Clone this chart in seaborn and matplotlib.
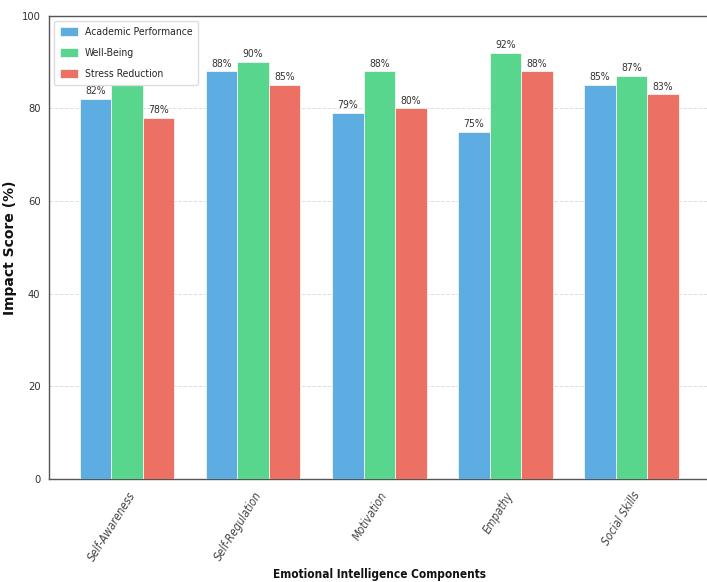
import matplotlib
matplotlib.use("Agg")
import matplotlib.pyplot as plt
import seaborn as sns
import pandas as pd

components = ["Self-Awareness", "Self-Regulation", "Motivation", "Empathy", "Social Skills"]
academic = [82, 88, 79, 75, 85]
well_being = [85, 90, 88, 92, 87]
stress = [78, 85, 80, 88, 83]
series_names = ["Academic Performance", "Well-Being", "Stress Reduction"]
palette = ["#5DADE2", "#58D68D", "#EC7063"]
y_ticks = [0, 20, 40, 60, 80, 100]

df = pd.DataFrame({
    "Component": components * 3,
    "Series": [series_names[0]] * 5 + [series_names[1]] * 5 + [series_names[2]] * 5,
    "Score": academic + well_being + stress,
})

sns.set_style("white")
plt.rcParams["font.family"] = ["DejaVu Sans"]
plt.rcParams["font.stretch"] = "condensed"

fig = plt.figure(figsize=(7.07, 5.82), dpi=100)
ax = fig.add_axes([0.069, 0.177, 0.935, 0.796])

sns.barplot(data=df, x="Component", y="Score", hue="Series", palette=palette,
            saturation=1, width=0.75, edgecolor="#f4f4f4", linewidth=0.6, ax=ax, zorder=3)

for cont in ax.containers:
    ax.bar_label(cont, fmt="%d%%", padding=2, fontsize=7.5, color="#333333")

ax.set_ylim(0, 100)
ax.set_xlim(-0.62, 4.62)
ax.set_yticks(y_ticks)
ax.yaxis.grid(True, linestyle="--", color="#dddddd", linewidth=0.7, zorder=0)
ax.set_axisbelow(True)

for side in ["left", "bottom", "top", "right"]:
    ax.spines[side].set_color("#555555")
    ax.spines[side].set_linewidth(1.0)

ax.tick_params(axis="both", colors="#444444", labelsize=8, length=4, direction="out")
ax.tick_params(axis="y", pad=2)
plt.setp(ax.get_yticklabels(), color="#333333")
plt.setp(ax.get_xticklabels(), rotation=58, ha="right", rotation_mode="anchor",
         style="italic", color="#444444", fontsize=8.3)

ax.set_xlabel("Emotional Intelligence Components", fontsize=8.5, fontweight="bold",
              color="#111111")
ax.xaxis.set_label_coords(0.5, -0.192)
ax.set_ylabel("Impact Score (%)", fontsize=10, fontweight="bold",
              color="#111111", fontstretch="normal")
ax.yaxis.set_label_coords(-0.048, 0.5)

leg = ax.legend(loc="upper left", fontsize=7.5, frameon=True, framealpha=1.0,
                edgecolor="#dddddd", handlelength=1.8, handleheight=1.0,
                handletextpad=0.6, labelspacing=1.05, borderpad=0.55)
leg.set_title(None)

fig.savefig("out.png", dpi=100)
